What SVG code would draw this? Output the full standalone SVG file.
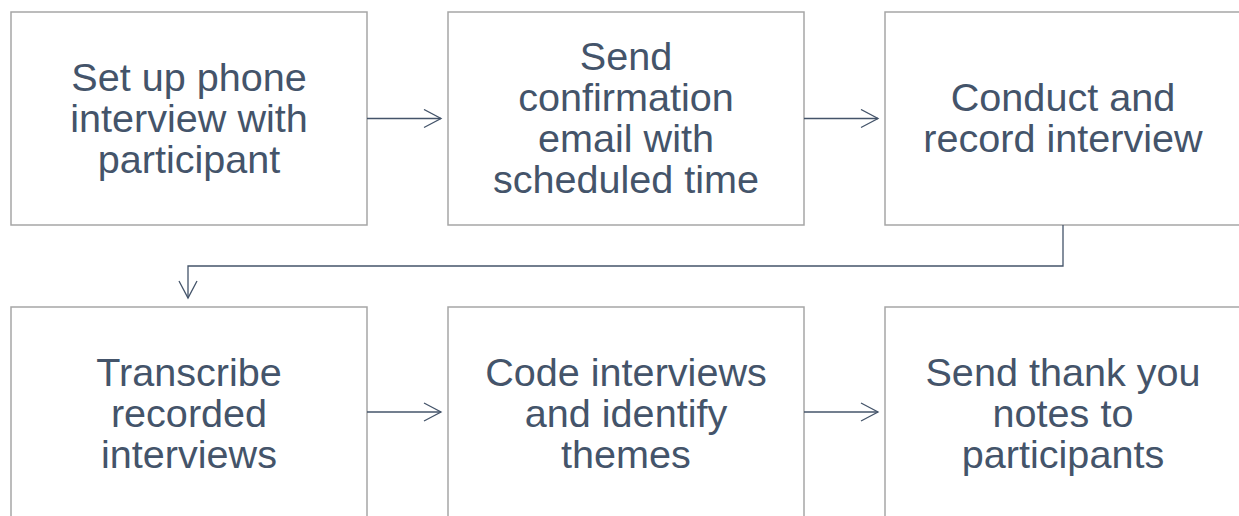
<svg xmlns="http://www.w3.org/2000/svg" width="1239" height="516" viewBox="0 0 1239 516">
<style>
.box{fill:#ffffff;stroke:#a6a6a6;stroke-width:1.5}
.lbl{font-family:"Liberation Sans",Arial,sans-serif;font-size:39.6px;fill:#44546a;text-anchor:middle}
.con{fill:none;stroke:#44546a;stroke-width:1.3}
</style>
<defs>
<marker id="arr" viewBox="0 0 20 20" refX="18" refY="10" markerWidth="20" markerHeight="20" orient="auto" markerUnits="userSpaceOnUse">
<path d="M1,1 L18,10 L1,19" fill="none" stroke="#44546a" stroke-width="1.3"/>
</marker>
</defs>
<rect width="1239" height="516" fill="#ffffff"/>
<g id="n1">
<rect class="box" x="11" y="12" width="356" height="213"/>
<text class="lbl" x="189"><tspan x="189" y="91">Set up phone</tspan><tspan x="189" y="132">interview with</tspan><tspan x="189" y="173">participant</tspan></text>
</g>
<g id="n2">
<rect class="box" x="448" y="12" width="356" height="213"/>
<text class="lbl" x="626"><tspan x="626" y="70">Send</tspan><tspan x="626" y="111">confirmation</tspan><tspan x="626" y="152">email with</tspan><tspan x="626" y="193">scheduled time</tspan></text>
</g>
<g id="n3">
<rect class="box" x="885" y="12" width="356" height="213"/>
<text class="lbl" x="1063"><tspan x="1063" y="111">Conduct and</tspan><tspan x="1063" y="152">record interview</tspan></text>
</g>
<g id="n4">
<rect class="box" x="11" y="307" width="356" height="213"/>
<text class="lbl" x="189"><tspan x="189" y="386">Transcribe</tspan><tspan x="189" y="427">recorded</tspan><tspan x="189" y="468">interviews</tspan></text>
</g>
<g id="n5">
<rect class="box" x="448" y="307" width="356" height="213"/>
<text class="lbl" x="626"><tspan x="626" y="386">Code interviews</tspan><tspan x="626" y="427">and identify</tspan><tspan x="626" y="468">themes</tspan></text>
</g>
<g id="n6">
<rect class="box" x="885" y="307" width="356" height="213"/>
<text class="lbl" x="1063"><tspan x="1063" y="386">Send thank you</tspan><tspan x="1063" y="427">notes to</tspan><tspan x="1063" y="468">participants</tspan></text>
</g>
<g id="connectors">
<path class="con" d="M367,118.5 H441" marker-end="url(#arr)"/>
<path class="con" d="M804,118.5 H878" marker-end="url(#arr)"/>
<path class="con" d="M1063,225 V266 H188 V298" marker-end="url(#arr)"/>
<path class="con" d="M367,412 H441" marker-end="url(#arr)"/>
<path class="con" d="M804,412 H878" marker-end="url(#arr)"/>
</g>
</svg>
